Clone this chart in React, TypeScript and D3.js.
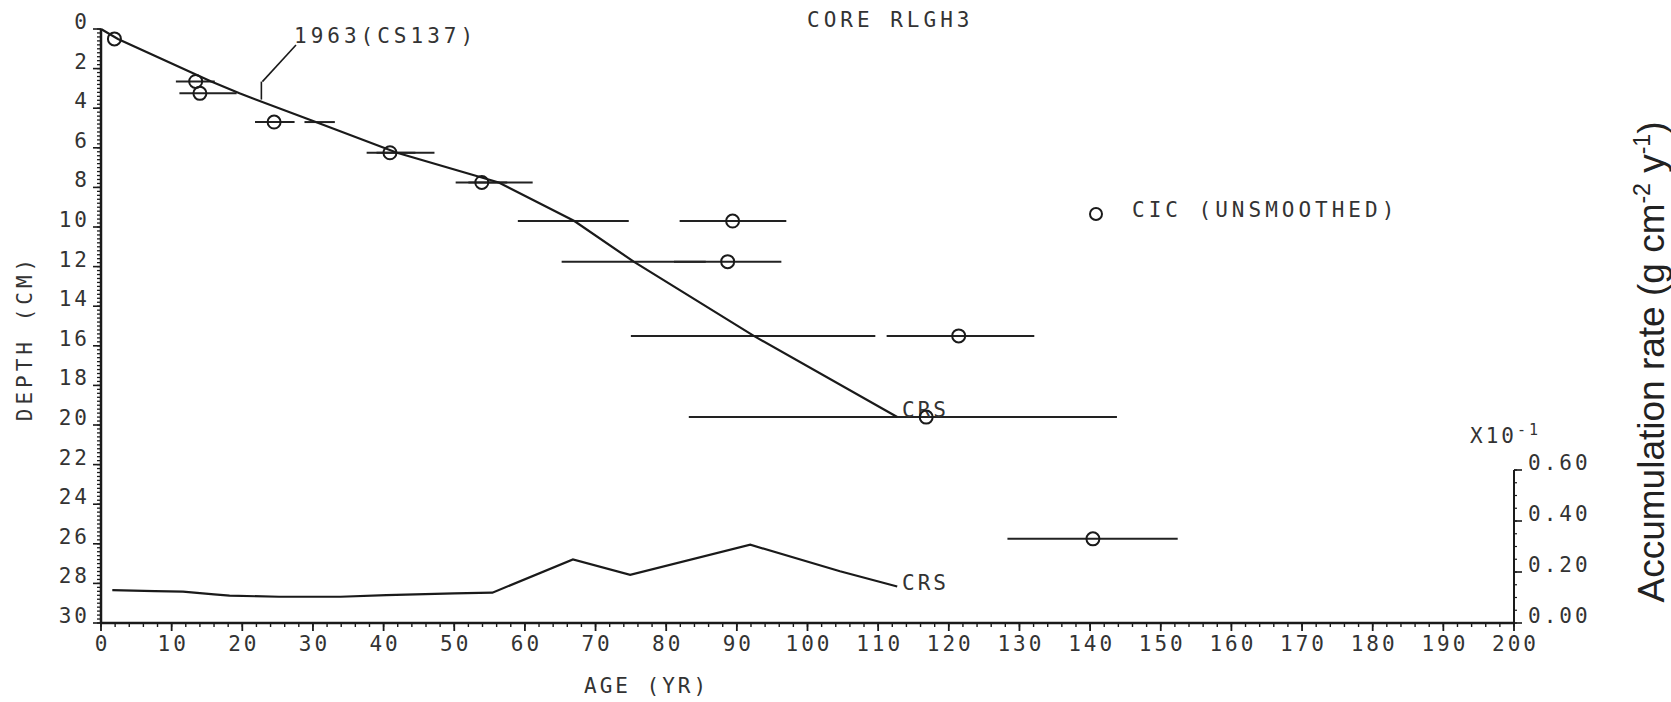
import React from 'react';
import * as d3 from 'd3';

// ---------------- data ----------------
const ageTicks = d3.range(0, 201, 10);
const ageMinorTicks = d3.range(0, 201, 2);
const depthTicks = d3.range(0, 31, 2);
const depthMinorTicks = d3.range(0, 30.001, 0.2);
const rateTicks = [0, 0.2, 0.4, 0.6];
const rateTickLabels = ['0.00', '0.20', '0.40', '0.60'];
const rateMinorTicks = d3.range(0, 0.6001, 0.05);

// CIC (unsmoothed) ages with horizontal error bars
const cicAge = [1.9, 13.4, 14.0, 24.5, 40.9, 53.9, 89.4, 88.7, 121.4, 116.8, 140.4];
const cicDepth = [0.5, 2.65, 3.25, 4.7, 6.25, 7.75, 9.7, 11.75, 15.5, 19.6, 25.75];
const cicLow = [1.9, 10.6, 11.1, 21.8, 37.6, 50.2, 81.9, 81.1, 111.2, 90.0, 128.3];
const cicHigh = [1.9, 16.1, 19.2, 27.4, 44.5, 57.5, 97.0, 96.3, 132.1, 143.8, 152.4];

// CRS model depth-age curve with error bars
const crsAge = [0, 2.4, 15.6, 19.6, 30.4, 41.9, 56.3, 67.0, 75.4, 92.4, 112.7];
const crsDepth = [0, 0.5, 2.65, 3.25, 4.7, 6.25, 7.75, 9.7, 11.75, 15.5, 19.6];
const crsLow = [0, 2.4, 15.6, 19.6, 28.8, 39.0, 52.0, 59.0, 65.2, 75.0, 83.2];
const crsHigh = [0, 2.4, 15.6, 19.6, 33.1, 47.2, 61.1, 74.7, 85.6, 109.6, 142.2];

// CRS accumulation rate (x10^-1 g cm-2 y-1)
const accAge = [1.6, 7.6, 11.6, 16.0, 18.2, 25.2, 33.9, 40.4, 50.0, 55.4, 66.8, 74.9, 91.9, 104.6, 112.7];
const accRate = [0.129, 0.125, 0.123, 0.112, 0.107, 0.103, 0.103, 0.109, 0.116, 0.119, 0.249, 0.189, 0.307, 0.203, 0.143];

const cs137Age = 22.7;

// ---------------- layout ----------------
const W = 1671;
const H = 702;
const MONO = '"DejaVu Sans Mono", monospace';
const INK = '#1a1a1a';
const TXT = '#333';

export default function App() {
  const x = d3.scaleLinear().domain([0, 200]).range([101, 1514]);
  const y = d3.scaleLinear().domain([0, 30]).range([29, 623]);
  const yr = d3.scaleLinear().domain([0, 0.6]).range([623, 470]);
  const crsInterp = d3.scaleLinear().domain(crsAge).range(crsDepth);

  const crsLine = d3
    .line<number>()
    .x((_, i) => x(crsAge[i]))
    .y((_, i) => y(crsDepth[i]))(crsAge);
  const accLine = d3
    .line<number>()
    .x((_, i) => x(accAge[i]))
    .y((_, i) => yr(accRate[i]))(accAge);

  const csX = x(cs137Age);
  const csY = y(crsInterp(cs137Age));

  const tickFont = { fontFamily: MONO, fontSize: 21, fill: TXT, letterSpacing: 3 } as const;
  const textFont = { fontFamily: MONO, fontSize: 21, fill: TXT, letterSpacing: 4 } as const;

  return (
    <svg
      width={W}
      height={H}
      viewBox={`0 0 ${W} ${H}`}
      style={{ position: 'absolute', left: 0, top: 0, background: '#fff', display: 'block' }}
    >
      <rect x={0} y={0} width={W} height={H} fill="#fff" />

      {/* title */}
      <text x={807} y={20} dominantBaseline="central" {...textFont}>CORE RLGH3</text>

      {/* left axis */}
      <line x1={x(0)} x2={x(0)} y1={y(0)} y2={y(30)} stroke={INK} strokeWidth={2.5} />
      {depthMinorTicks.map((d, i) => (
        <line key={'dm' + i} x1={x(0) - 4} x2={x(0)} y1={y(d)} y2={y(d)} stroke={INK} strokeWidth={1.3} />
      ))}
      {depthTicks.map((d) => (
        <g key={'dt' + d}>
          <line x1={x(0) - 8} x2={x(0)} y1={y(d)} y2={y(d)} stroke={INK} strokeWidth={1.6} />
          <text x={90} y={y(d) - 7} textAnchor="end" dominantBaseline="central" {...tickFont}>
            {d}
          </text>
        </g>
      ))}
      <text
        transform={`translate(25,338) rotate(-90)`}
        textAnchor="middle"
        dominantBaseline="central"
        {...textFont}
      >
        DEPTH (CM)
      </text>

      {/* bottom axis */}
      <line x1={x(0)} x2={x(200)} y1={y(30)} y2={y(30)} stroke={INK} strokeWidth={2.5} />
      {ageMinorTicks.map((a) => (
        <line key={'am' + a} x1={x(a)} x2={x(a)} y1={y(30)} y2={y(30) + 4} stroke={INK} strokeWidth={1.4} />
      ))}
      {ageTicks.map((a) => (
        <g key={'at' + a}>
          <line x1={x(a)} x2={x(a)} y1={y(30)} y2={y(30) + 8} stroke={INK} strokeWidth={1.8} />
          <text x={x(a) + 1.5} y={644} textAnchor="middle" dominantBaseline="central" {...tickFont}>
            {a}
          </text>
        </g>
      ))}
      <text x={584} y={686} dominantBaseline="central" {...tickFont}>AGE (YR)</text>

      {/* right axis (accumulation rate) */}
      <line x1={x(200)} x2={x(200)} y1={yr(0)} y2={yr(0.6)} stroke={INK} strokeWidth={2} />
      {rateMinorTicks.map((r, i) => (
        <line key={'rm' + i} x1={x(200)} x2={x(200) + 3} y1={yr(r)} y2={yr(r)} stroke={INK} strokeWidth={1.2} />
      ))}
      {rateTicks.map((r, i) => (
        <g key={'rt' + r}>
          <line x1={x(200)} x2={x(200) + 8} y1={yr(r)} y2={yr(r)} stroke={INK} strokeWidth={1.6} />
          <text x={x(200) + 14} y={yr(r) - 7} dominantBaseline="central" {...tickFont}>
            {rateTickLabels[i]}
          </text>
        </g>
      ))}
      <text x={1470} y={436} dominantBaseline="central" {...tickFont}>
        X10<tspan dy={-6} fontSize={15}>-1</tspan>
      </text>
      <text
        transform={`translate(1664,362) rotate(-90)`}
        textAnchor="middle"
        fontFamily='"Liberation Sans", Arial, sans-serif'
        fontSize={37}
        fill="#222"
      >
        Accumulation rate (g cm<tspan dy={-14} fontSize={23}>-2</tspan>
        <tspan dy={14}> y</tspan>
        <tspan dy={-14} fontSize={23}>-1</tspan>
        <tspan dy={14}>)</tspan>
      </text>

      {/* CRS error bars */}
      {crsAge.map((a, i) =>
        crsHigh[i] > crsLow[i] ? (
          <line
            key={'ce' + i}
            x1={x(crsLow[i])}
            x2={x(crsHigh[i])}
            y1={y(crsDepth[i])}
            y2={y(crsDepth[i])}
            stroke="#222"
            strokeWidth={2}
          />
        ) : null
      )}
      {/* CIC error bars */}
      {cicAge.map((a, i) =>
        cicHigh[i] > cicLow[i] ? (
          <line
            key={'ie' + i}
            x1={x(cicLow[i])}
            x2={x(cicHigh[i])}
            y1={y(cicDepth[i])}
            y2={y(cicDepth[i])}
            stroke="#222"
            strokeWidth={2}
          />
        ) : null
      )}

      {/* CRS depth-age line */}
      <path d={crsLine ?? ''} fill="none" stroke={INK} strokeWidth={2.2} />
      <text x={902} y={410} dominantBaseline="central" {...tickFont}>CRS</text>

      {/* CIC points */}
      {cicAge.map((a, i) => (
        <circle key={'c' + i} cx={x(a)} cy={y(cicDepth[i])} r={6.5} fill="none" stroke={INK} strokeWidth={2} />
      ))}

      {/* 1963 Cs-137 marker */}
      <line x1={csX} x2={csX} y1={csY - 2} y2={csY - 20} stroke={INK} strokeWidth={1.6} />
      <line x1={csX + 1} x2={296} y1={csY - 20} y2={45} stroke={INK} strokeWidth={1.6} />
      <text x={294} y={36} dominantBaseline="central" {...textFont}>1963(CS137)</text>

      {/* legend */}
      <circle cx={1096} cy={214} r={6} fill="none" stroke={INK} strokeWidth={2} />
      <text x={1132} y={210} dominantBaseline="central" {...textFont}>CIC (UNSMOOTHED)</text>

      {/* accumulation-rate line */}
      <path d={accLine ?? ''} fill="none" stroke={INK} strokeWidth={2.2} />
      <text x={902} y={583} dominantBaseline="central" {...tickFont}>CRS</text>
    </svg>
  );
}
